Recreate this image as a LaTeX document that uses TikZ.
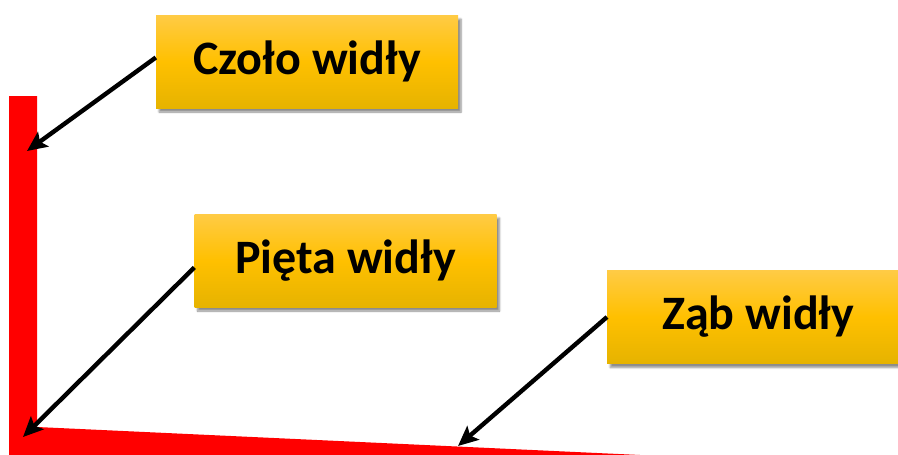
\documentclass[tikz,border=0pt]{standalone}
\usepackage{fontspec}
\setmainfont{Carlito}
\usetikzlibrary{arrows.meta,shadows.blur}
\begin{document}
\begin{tikzpicture}[x=1pt,y=-1pt,
  label box/.style={rectangle, minimum width=302pt, minimum height=93pt, inner sep=0pt,
    top color=boxtop, bottom color=boxbot, middle color=boxmid, shading angle=0,
    blur shadow={shadow xshift=3pt, shadow yshift=-4pt, shadow blur steps=6, shadow opacity=45},
    font=\fontsize{48}{52}\selectfont\bfseries},
  pointer/.style={line width=4.4pt, -{Stealth[length=20pt,width=18pt,inset=4pt]}}]
\definecolor{boxtop}{HTML}{FFCB45}
\definecolor{boxmid}{HTML}{FFC000}
\definecolor{boxbot}{HTML}{E6B300}
\definecolor{forkred}{HTML}{FF0000}
\useasboundingbox (0,0) rectangle (898,455);
\begin{scope}
\clip (0,0) rectangle (898,455);
\fill[forkred] (9,96) -- (37,96) -- (37,427) -- (640,455) -- (9,455) -- cycle;
\node[label box] (czolo) at (307,61.5) {Czoło widły};
\node[label box] (pieta) at (345.5,260.5) {Pięta widły};
\node[label box, anchor=west] (zab) at (607,317) {Ząb widły};
\end{scope}
\coordinate (tczolo) at (27,151);
\coordinate (tpieta) at (23,437);
\coordinate (tzab) at (458,446);
\draw[pointer] (czolo.west) ++(0,-4) -- (tczolo);
\draw[pointer] (pieta.west) ++(0,7) -- (tpieta);
\draw[pointer] (zab.west) -- (tzab);
\end{tikzpicture}
\end{document}
